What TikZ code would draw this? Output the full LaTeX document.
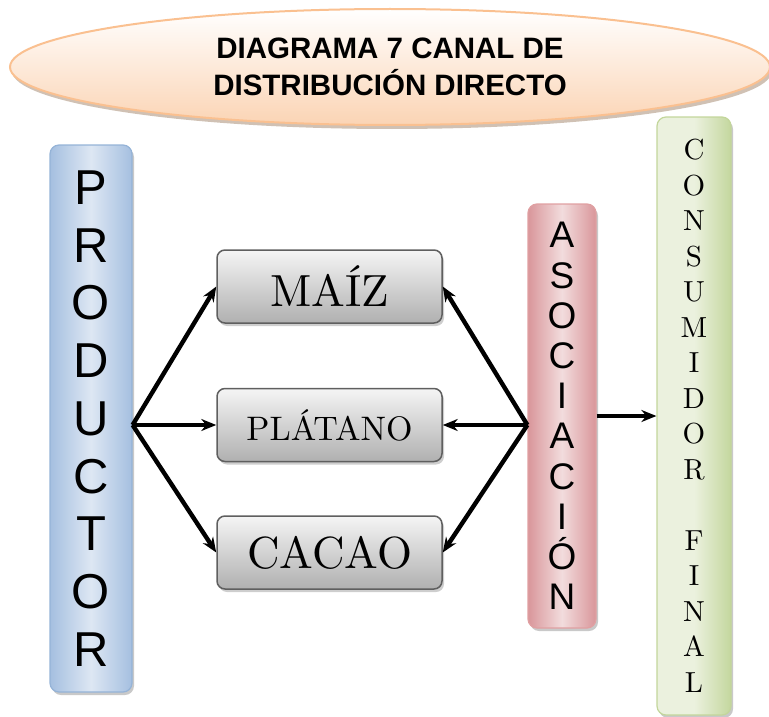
\documentclass[tikz,border=0pt]{standalone}
\usepackage{fontspec}
\usepackage{xcolor}
\usepackage{tikz}
\usetikzlibrary{shapes.geometric, shadows, positioning, arrows.meta}
\newfontfamily\arialfont{Liberation Sans}
\newfontfamily\romanfont{lmroman10-regular}[Extension=.otf]
\definecolor{titleline}{HTML}{FAC090}
\definecolor{titlefill}{HTML}{FBD4B4}
\definecolor{prodline}{HTML}{95B3D7}
\definecolor{prodfill}{HTML}{A5BFE0}
\definecolor{prodlight}{HTML}{DDE7F3}
\definecolor{asocline}{HTML}{E0A0A2}
\definecolor{asocfill}{HTML}{D9969A}
\definecolor{asoclight}{HTML}{F2DCDD}
\definecolor{consline}{HTML}{C3D69B}
\definecolor{consfill}{HTML}{C4D79E}
\definecolor{conslight}{HTML}{EBF1DE}
\definecolor{boxline}{HTML}{5F5F5F}
\tikzstyle{title} = [ellipse, minimum width=760pt, minimum height=116pt, align=center, draw=titleline, line width=2pt, top color=white, bottom color=titlefill, drop shadow={shadow xshift=2pt, shadow yshift=-4pt, fill=brown!45!gray!60, opacity=0.8}]
\tikzstyle{bar} = [rectangle, rounded corners=9pt, align=center, inner sep=0pt, line width=1.2pt, drop shadow={shadow xshift=2pt, shadow yshift=-3pt, fill=gray!60, opacity=0.7}]
\tikzstyle{product} = [rectangle, rounded corners=8pt, minimum width=225pt, minimum height=73pt, inner sep=0pt, text centered, draw=boxline, line width=1.5pt, top color=gray!8, bottom color=gray!62, drop shadow={shadow xshift=2pt, shadow yshift=-3pt, fill=gray!55, opacity=0.7}]
\tikzstyle{flow} = [line width=4.4pt, -{Stealth[length=15pt, width=12pt]}]

\begin{document}
\begin{tikzpicture}[x=1pt, y=-1pt]
	\useasboundingbox (0,0) rectangle (769,717);
		\node (Title)[title, font=\arialfont\bfseries\fontsize{29.5}{37}\selectfont] at (390,67) {DIAGRAMA 7 CANAL DE\\DISTRIBUCIÓN DIRECTO};
		\node (Productor)[bar, minimum width=82pt, minimum height=547pt, draw=prodline, left color=prodfill, right color=prodfill, middle color=prodlight, font=\arialfont\fontsize{49}{57.75}\selectfont] at (91,418.5) {P\\R\\O\\D\\U\\C\\T\\O\\R};
		\node (Maiz)[product, font=\romanfont\fontsize{45}{50}\selectfont] at (329.5,286.5) {MAÍZ};
		\node (Platano)[product, below = 64pt of Maiz, font=\romanfont\fontsize{34}{40}\selectfont]{PLÁTANO};
		\node (Cacao)[product, below = 53pt of Platano, font=\romanfont\fontsize{45}{50}\selectfont]{CACAO};
		\node (Asociacion)[bar, minimum width=68pt, minimum height=424pt, draw=asocline, left color=asocfill, right color=asocfill, middle color=asoclight, font=\arialfont\fontsize{37}{40.2}\selectfont] at (562,416) {A\\S\\O\\C\\I\\A\\C\\I\\Ó\\N};
		\node (Consumidor)[bar, minimum width=74pt, minimum height=598pt, draw=consline, left color=conslight, right color=consfill, middle color=conslight, font=\romanfont\fontsize{29}{35.5}\selectfont] at (694,416) {C\\O\\N\\S\\U\\M\\I\\D\\O\\R\\[35.5pt]F\\I\\N\\A\\L};
		\coordinate (ProdOut) at (Productor.east |- Platano.west);
		\coordinate (AsocIn) at (Asociacion.west |- Platano.east);
		\draw [flow] (ProdOut) -- (Maiz.west);
		\draw [flow] (ProdOut) -- (Platano.west);
		\draw [flow] (ProdOut) -- (Cacao.west);
		\draw [flow] (AsocIn) -- (Maiz.east);
		\draw [flow] (AsocIn) -- (Platano.east);
		\draw [flow] (AsocIn) -- (Cacao.east);
		\draw [flow] (Asociacion.east) -- (Asociacion.east -| Consumidor.west);
	\end{tikzpicture}
\end{document}
